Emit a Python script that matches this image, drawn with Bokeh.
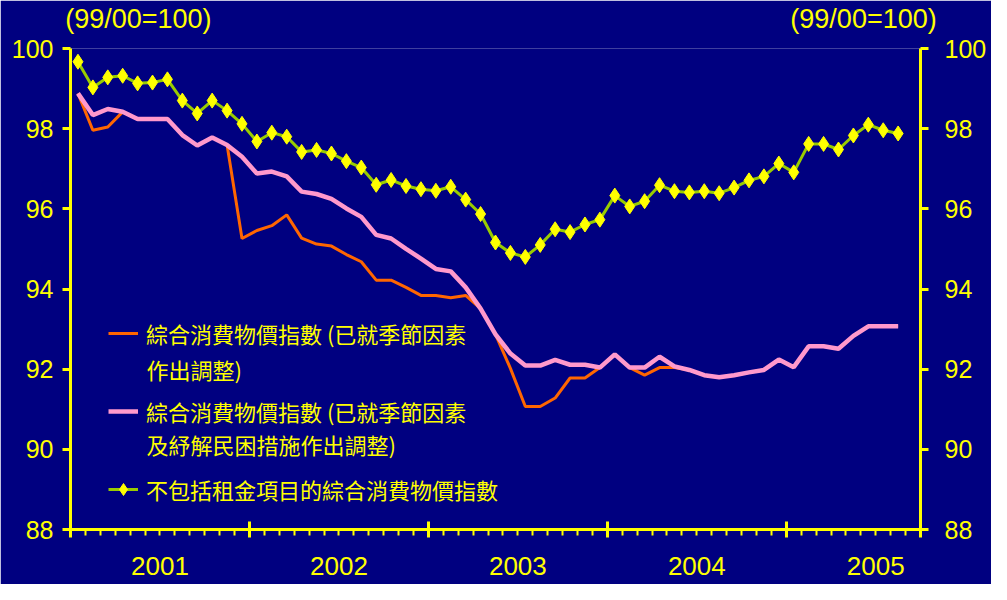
from bokeh.plotting import figure
from bokeh.models import (Range1d, LinearAxis, FixedTicker, Legend, Label,
                          LegendItem, ColumnDataSource, CustomLabelingPolicy)
from bokeh.embed import file_html
from bokeh.resources import INLINE

# ---------------- data ----------------
years = ["2001", "2002", "2003", "2004", "2005"]
months_per_year = 12
n_months = 56            # Jan 2001 .. Aug 2005
axis_months = 57         # axis runs to end of Sep 2005

# CCPI (seasonally adjusted)
cpi_sa = [98.88, 97.96, 98.04, 98.42, 98.24, 98.24, 98.24, 97.84, 97.58, 97.78,
          97.59, 95.26, 95.46, 95.58, 95.85, 95.27, 95.12, 95.07, 94.86, 94.68,
          94.22, 94.22, 94.04, 93.84, 93.84, 93.78, 93.84, 93.51, 92.87, 92.02,
          91.07, 91.07, 91.28, 91.78, 91.78, 92.04, 92.37, 92.04, 91.85, 92.04,
          92.04, 91.98, 91.85, 91.80, 91.85, 91.92, 91.98, 92.24, 92.05, 92.57,
          92.57, 92.51, 92.83, 93.07, 93.07, 93.07]

# CCPI (seasonally adjusted and netting out relief measures)
cpi_sa_relief = [98.88, 98.34, 98.49, 98.42, 98.24, 98.24, 98.24, 97.84, 97.58, 97.78,
                 97.59, 97.30, 96.88, 96.93, 96.81, 96.43, 96.37, 96.25, 96.01, 95.80,
                 95.35, 95.26, 95.00, 94.76, 94.50, 94.44, 94.04, 93.51, 92.87, 92.39,
                 92.09, 92.09, 92.23, 92.11, 92.11, 92.04, 92.37, 92.04, 92.04, 92.31,
                 92.07, 91.98, 91.85, 91.80, 91.85, 91.92, 91.98, 92.24, 92.05, 92.57,
                 92.57, 92.51, 92.83, 93.07, 93.07, 93.07]

# CCPI excluding rentals
cpi_ex_rent = [99.67, 99.03, 99.28, 99.32, 99.13, 99.15, 99.23, 98.70, 98.38, 98.70,
               98.45, 98.12, 97.68, 97.90, 97.80, 97.42, 97.47, 97.38, 97.19, 97.03,
               96.60, 96.72, 96.57, 96.49, 96.45, 96.55, 96.23, 95.87, 95.16, 94.90,
               94.80, 95.10, 95.49, 95.42, 95.61, 95.73, 96.33, 96.06, 96.19, 96.59,
               96.44, 96.41, 96.44, 96.39, 96.53, 96.71, 96.81, 97.13, 96.91, 97.62,
               97.62, 97.48, 97.83, 98.10, 97.96, 97.88]

y_ticks = [88, 90, 92, 94, 96, 98, 100]
base_label = "(99/00=100)"
legend_first = ["綜合消費物價指數 (已就季節因素",
                "綜合消費物價指數 (已就季節因素",
                "不包括租金項目的綜合消費物價指數"]
legend_second = ["作出調整)", "及紓解民困措施作出調整)", ""]

# ---------------- style / layout ----------------
BG = "#000080"
YEL = "#FFFF00"
ORANGE = "#FF6600"
PINK = "#FF99CC"
GREEN = "#99CC00"
FONT = "Liberation Sans"
CJK = "Noto Sans CJK TC"

W, H = 991, 584
BL, BR, BT, BB = 70, 71, 46, 55
frame_w = W - BL - BR
frame_h = H - BT - BB
px_per_unit = frame_h / (y_ticks[-1] - y_ticks[0])
px_per_month = frame_w / axis_months

def yval(py):                      # pixel offset below frame top -> value
    return y_ticks[-1] - py / px_per_unit

x = [i + 0.5 for i in range(n_months)]
src = ColumnDataSource(dict(x=x, a=cpi_sa, b=cpi_sa_relief, c=cpi_ex_rent))

p = figure(width=W, height=H,
           x_range=Range1d(0, axis_months), y_range=Range1d(y_ticks[0], y_ticks[-1]),
           output_backend="svg", toolbar_location=None,
           background_fill_color=BG, border_fill_color=BG, outline_line_color=None,
           min_border_left=BL, min_border_right=BR, min_border_top=BT,
           min_border_bottom=BB)
p.grid.visible = False

# lines
r_a = p.line("x", "a", source=src, line_color=ORANGE, line_width=3)
r_b = p.line("x", "b", source=src, line_color=PINK, line_width=4.5)
r_c = p.line("x", "c", source=src, line_color=GREEN, line_width=3)
r_cm = p.scatter("x", "c", source=src, marker="diamond", size=15,
                 fill_color=YEL, line_color=YEL, line_width=1)

# y axes
def style_y(ax, standoff):
    ax.ticker = FixedTicker(ticks=y_ticks, minor_ticks=[])
    ax.axis_line_color = YEL
    ax.axis_line_width = 3
    ax.major_tick_line_color = YEL
    ax.major_tick_line_width = 3
    ax.major_tick_in = 0
    ax.major_tick_out = 8
    ax.minor_tick_line_color = None
    ax.major_label_text_color = YEL
    ax.major_label_text_font = FONT
    ax.major_label_text_font_size = "25px"
    ax.major_label_standoff = standoff

style_y(p.yaxis[0], 9)
ry = LinearAxis()
style_y(ry, 16)
p.add_layout(ry, "right")

# x axis: year boundaries + monthly ticks (no labels)
bounds = [k * months_per_year for k in range(len(years))] + [axis_months]
xa = p.xaxis[0]
xa.ticker = FixedTicker(ticks=bounds, minor_ticks=list(range(axis_months + 1)))
xa.axis_line_color = YEL
xa.axis_line_width = 3
xa.major_tick_line_color = YEL
xa.major_tick_line_width = 3
xa.major_tick_in = 8
xa.major_tick_out = 8
xa.minor_tick_line_color = YEL
xa.minor_tick_line_width = 2
xa.minor_tick_in = 0
xa.minor_tick_out = 6
xa.major_label_text_font_size = "1px"
xa.major_label_standoff = 0
xa.major_label_overrides = {b: "" for b in bounds}
xa.major_label_policy = CustomLabelingPolicy(
    code="for (const i of [...indices]) indices.unset(i); return indices")

# year labels axis
centers = [k * months_per_year + months_per_year / 2 for k in range(len(years))]
ya = LinearAxis(ticker=FixedTicker(ticks=centers, minor_ticks=[]),
                major_label_overrides={c: y for c, y in zip(centers, years)})
ya.axis_line_color = None
ya.major_tick_line_color = None
ya.minor_tick_line_color = None
ya.major_tick_in = 0
ya.major_tick_out = 0
ya.major_label_text_color = YEL
ya.major_label_text_font = FONT
ya.major_label_text_font_size = "26px"
ya.major_label_standoff = 19
p.add_layout(ya, "below")

# base-period labels above both value axes
base_pos = [4.55, 53.18]
ta = LinearAxis(ticker=FixedTicker(ticks=base_pos, minor_ticks=[]),
                major_label_overrides={b: base_label for b in base_pos})
ta.axis_line_color = None
ta.major_tick_line_color = None
ta.minor_tick_line_color = None
ta.major_tick_in = 0
ta.major_tick_out = 0
ta.major_label_text_color = YEL
ta.major_label_text_font = FONT
ta.major_label_text_font_size = "27px"
ta.major_label_standoff = 15
p.add_layout(ta, "above")

# legend
leg_x, glyph_w, standoff = 38, 30, 8
item_h, spacing, leg_y = 30, 46, 24
legend = Legend(items=[LegendItem(label=legend_first[0], renderers=[r_a]),
                       LegendItem(label=legend_first[1], renderers=[r_b]),
                       LegendItem(label=legend_first[2], renderers=[r_c, r_cm])],
                location=(leg_x, leg_y), orientation="vertical",
                background_fill_alpha=0, border_line_color=None,
                padding=0, margin=0, spacing=spacing,
                glyph_width=glyph_w, glyph_height=item_h, label_height=item_h,
                label_standoff=standoff,
                label_text_color=YEL, label_text_font=CJK,
                label_text_font_size="22px")
p.add_layout(legend)

n_items = len(legend_first)
for k, txt in enumerate(legend_second):
    if not txt:
        continue
    row_center = frame_h - leg_y - item_h / 2 - (n_items - 1 - k) * (item_h + spacing)
    p.add_layout(Label(x=(leg_x + glyph_w + standoff) / px_per_month,
                       y=yval(row_center + 29.5), text=txt,
                       text_color=YEL, text_font=CJK, text_font_size="22px",
                       text_align="left", text_baseline="middle"))

html = file_html(p, INLINE)
html = html.replace("<body>", '<body style="background-color:#000080;">', 1)
open("out.html", "w").write(html)
